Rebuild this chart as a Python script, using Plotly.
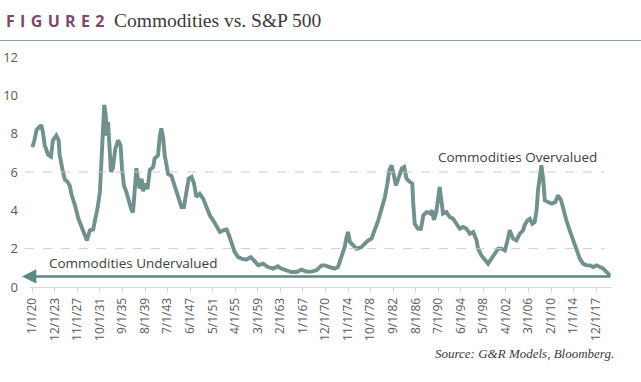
import plotly.graph_objects as go

# ---- data ----
DATES = [
    "1920-01", "1920-05", "1920-10", "1921-05", "1921-08", "1921-11", "1922-03", "1922-10",
    "1923-04", "1923-08", "1924-03", "1924-08", "1924-10", "1925-05", "1925-09", "1926-02",
    "1926-07", "1926-11", "1927-06", "1928-01", "1928-08", "1929-03", "1929-07", "1930-01",
    "1930-08", "1930-11", "1931-05", "1931-10", "1932-01", "1932-03", "1932-05", "1932-07",
    "1932-10", "1932-12", "1933-03", "1933-07", "1933-09", "1934-01", "1934-06", "1934-12",
    "1935-05", "1935-08", "1935-12", "1936-05", "1936-10", "1937-04", "1937-07", "1937-11",
    "1938-02", "1938-05", "1938-09", "1939-01", "1939-04", "1939-09", "1940-01", "1940-06",
    "1941-01", "1941-04", "1941-11", "1942-03", "1942-06", "1942-10", "1943-01", "1943-05",
    "1943-08", "1944-03", "1944-10", "1945-05", "1945-12", "1946-05", "1946-10", "1947-03",
    "1947-09", "1948-02", "1948-07", "1949-02", "1949-09", "1950-04", "1950-11", "1951-06",
    "1952-01", "1952-08", "1953-03", "1953-10", "1954-03", "1954-08", "1955-03", "1955-10",
    "1956-05", "1957-03", "1957-12", "1958-07", "1959-04", "1960-02", "1960-12", "1961-11",
    "1962-09", "1963-04", "1964-03", "1965-01", "1965-12", "1966-10", "1967-08", "1968-07",
    "1969-05", "1970-04", "1970-11", "1971-06", "1971-09", "1972-07", "1973-02", "1973-09",
    "1974-04", "1974-08", "1974-11", "1975-03", "1975-10", "1976-05", "1977-03", "1977-10",
    "1978-05", "1978-12", "1979-07", "1980-02", "1980-09", "1981-04", "1981-09", "1982-01",
    "1982-06", "1982-11", "1983-03", "1983-08", "1984-03", "1984-08", "1985-01", "1985-08",
    "1986-01", "1986-03", "1986-06", "1987-01", "1987-07", "1987-12", "1988-07", "1989-02",
    "1989-06", "1989-10", "1990-03", "1990-10", "1991-02", "1991-05", "1991-12", "1992-07",
    "1993-02", "1993-09", "1994-04", "1994-11", "1995-06", "1996-01", "1996-08", "1997-03",
    "1997-06", "1998-01", "1998-08", "1999-03", "1999-10", "2000-05", "2000-12", "2001-07",
    "2002-02", "2002-09", "2002-12", "2003-07", "2004-02", "2004-09", "2005-04", "2005-07",
    "2006-01", "2006-06", "2006-11", "2007-04", "2007-08", "2007-11", "2008-03", "2008-06",
    "2008-10", "2009-01", "2009-08", "2010-04", "2010-11", "2011-05", "2011-11", "2012-03",
    "2012-10", "2013-05", "2013-12", "2014-07", "2015-02", "2015-09", "2016-04", "2016-11",
    "2017-06", "2018-01", "2018-08", "2019-03", "2019-10", "2020-05",
]
RATIO = [
    7.3, 7.6, 8.2, 8.35, 8.45, 8.1, 7.4, 6.9,
    6.8, 7.65, 7.9, 7.65, 6.9, 6.0, 5.6, 5.5,
    5.3, 4.8, 4.27, 3.57, 3.13, 2.78, 2.43, 2.96,
    3.0, 3.4, 4.1, 4.96, 6.5, 8.3, 9.3, 9.5,
    9.0, 7.9, 8.6, 7.05, 6.0, 6.2, 7.2, 7.65,
    7.4, 6.2, 5.3, 4.96, 4.43, 4.0, 3.9, 4.96,
    6.2, 5.65, 5.13, 5.65, 5.0, 5.4, 5.1, 6.1,
    6.26, 6.7, 6.87, 7.9, 8.27, 7.75, 6.87, 6.35,
    5.9, 5.8, 5.3, 4.7, 4.17, 4.17, 4.87, 5.65,
    5.74, 5.4, 4.7, 4.87, 4.61, 4.17, 3.74, 3.48,
    3.13, 2.87, 2.96, 3.0, 2.7, 2.26, 1.82, 1.56,
    1.48, 1.43, 1.56, 1.39, 1.13, 1.22, 1.04, 0.96,
    1.08, 0.96, 0.87, 0.78, 0.78, 0.9, 0.8, 0.8,
    0.87, 1.13, 1.13, 1.04, 1.04, 0.96, 1.04, 1.56,
    2.08, 2.6, 2.87, 2.35, 2.17, 2.0, 2.08, 2.26,
    2.43, 2.52, 2.96, 3.48, 4.09, 4.7, 5.4, 6.09,
    6.35, 5.83, 5.3, 5.65, 6.18, 6.26, 5.65, 5.48,
    5.4, 4.35, 3.3, 3.04, 3.04, 3.74, 3.91, 3.83,
    4.0, 3.5, 3.91, 5.22, 4.52, 3.83, 3.91, 3.65,
    3.56, 3.3, 3.04, 3.13, 3.04, 2.78, 2.87, 2.43,
    2.0, 1.65, 1.39, 1.22, 1.48, 1.74, 2.0, 2.0,
    1.91, 2.6, 2.96, 2.52, 2.43, 2.78, 2.96, 3.22,
    3.48, 3.56, 3.3, 3.39, 4.0, 5.04, 5.91, 6.35,
    5.57, 4.52, 4.43, 4.35, 4.43, 4.78, 4.52, 4.09,
    3.48, 2.96, 2.43, 1.91, 1.48, 1.22, 1.13, 1.13,
    1.04, 1.13, 1.04, 0.96, 0.78, 0.6,
]
TICK_DATES = [
    "1920-01-01", "1923-12-01", "1927-11-01", "1931-10-01", "1935-09-01", "1939-08-01",
    "1943-07-01", "1947-06-01", "1951-05-01", "1955-04-01", "1959-03-01", "1963-02-01",
    "1967-01-01", "1970-12-01", "1974-11-01", "1978-10-01", "1982-09-01", "1986-08-01",
    "1990-07-01", "1994-06-01", "1998-05-01", "2002-04-01", "2006-03-01", "2010-02-01",
    "2014-01-01", "2017-12-01",
]
TICK_LABELS = [
    "1/1/20", "12/1/23", "11/1/27", "10/1/31", "9/1/35", "8/1/39",
    "7/1/43", "6/1/47", "5/1/51", "4/1/55", "3/1/59", "2/1/63",
    "1/1/67", "12/1/70", "11/1/74", "10/1/78", "9/1/82", "8/1/86",
    "7/1/90", "6/1/94", "5/1/98", "4/1/02", "3/1/06", "2/1/10",
    "1/1/14", "12/1/17",
]
Y_TICKS = [0, 2, 4, 6, 8, 10, 12]
OVERVALUED_LEVEL = 6
UNDERVALUED_LEVEL = 2
ARROW_LEVEL = 0.55

LINE_COLOR = "#71918e"
ARROW_COLOR = "#5c8783"
GRID_COLOR = "#c9cccc"
TEXT_COLOR = "#595959"

W, H = 641, 382
L, R, T, B = 30, 29, 57, 95
PW = W - L - R
PH = H - T - B


def px(xp):
    return (xp - L) / PW


def py(yp):
    return (H - B - yp) / PH


fig = go.Figure()
fig.add_trace(go.Scatter(
    x=DATES, y=RATIO, mode="lines",
    line=dict(color=LINE_COLOR, width=3.9),
    hoverinfo="skip", showlegend=False,
))

for lvl in (OVERVALUED_LEVEL, UNDERVALUED_LEVEL):
    fig.add_shape(type="line", xref="paper", yref="y",
                  x0=px(25), x1=px(605), y0=lvl, y1=lvl,
                  line=dict(color=GRID_COLOR, width=1, dash="dash"))

# rule below the title
fig.add_shape(type="line", xref="paper", yref="paper",
              x0=px(0), x1=px(W), y0=py(40.5), y1=py(40.5),
              line=dict(color="#8aa5a2", width=1.2))

SP = "\u2004"
annotations = [
    dict(x=px(4), y=py(21), xref="paper", yref="paper", xanchor="left", yanchor="middle",
         text="<b>" + SP.join("FIGURE") + SP + "2</b>", showarrow=False,
         font=dict(family="Open Sans, sans-serif", size=16, color="#7b4a6c")),
    dict(x=px(112), y=py(20), xref="paper", yref="paper", xanchor="left", yanchor="middle",
         text="Commodities vs. S&P 500", showarrow=False,
         font=dict(family="Liberation Serif, serif", size=19.5, color="#3a3a3a")),
    dict(x=px(599), y=py(157), xref="paper", yref="paper", xanchor="right", yanchor="middle",
         text="Commodities Overvalued", showarrow=False,
         font=dict(family="Open Sans, sans-serif", size=13.5, color="#404040")),
    dict(x=px(47), y=py(263), xref="paper", yref="paper", xanchor="left", yanchor="middle",
         text="Commodities Undervalued", showarrow=False,
         font=dict(family="Open Sans, sans-serif", size=13.5, color="#404040")),
    dict(x=px(22), y=ARROW_LEVEL, xref="x domain", yref="y",
         ax=px(612), ay=ARROW_LEVEL, axref="x domain", ayref="y",
         text="", showarrow=True, arrowhead=2, arrowsize=1.1, arrowwidth=2.6,
         arrowcolor=ARROW_COLOR),
    dict(x=px(616), y=py(353), xref="paper", yref="paper", xanchor="right", yanchor="middle",
         text="<i>Source: G&R Models, Bloomberg.</i>", showarrow=False,
         font=dict(family="Liberation Serif, serif", size=13, color="#3a3a3a")),
]

fig.update_layout(
    width=W, height=H,
    margin=dict(l=L, r=R, t=T, b=B, pad=0, autoexpand=False),
    paper_bgcolor="white", plot_bgcolor="white",
    showlegend=False,
    annotations=annotations,
    xaxis=dict(
        type="date", range=["1919-08-10", "2020-09-05"],
        tickmode="array", tickvals=TICK_DATES, ticktext=TICK_LABELS,
        tickangle=-90, showgrid=False, zeroline=False,
        showline=True, linecolor="#d9d9d9", linewidth=1,
        ticks="outside", ticklen=5, tickcolor="#d9d9d9",
        tickfont=dict(family="Open Sans, sans-serif", size=12, color=TEXT_COLOR),
        fixedrange=True, automargin=False,
    ),
    yaxis=dict(
        range=[0, 12], tickmode="array", tickvals=Y_TICKS,
        showgrid=False, zeroline=False, showline=False,
        ticks="", ticklabelstandoff=11,
        tickfont=dict(family="Open Sans, sans-serif", size=13, color=TEXT_COLOR),
        fixedrange=True, automargin=False,
    ),
)

fig.write_html(
    "out.html",
    config={"displayModeBar": False, "staticPlot": True},
    post_script="document.body.style.margin='0';document.body.style.overflow='hidden';",
)
